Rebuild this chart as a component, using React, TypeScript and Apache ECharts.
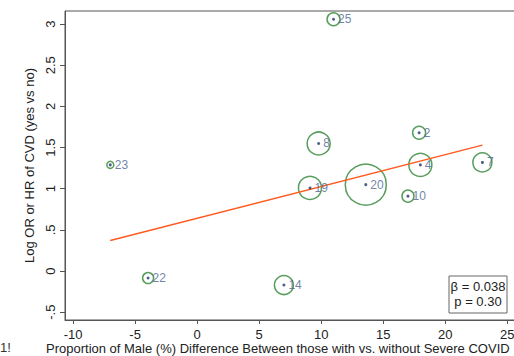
import React, { useEffect, useRef } from "react";
import * as echarts from "echarts";

const studyIds = ["23", "25", "2", "8", "4", "7", "19", "20", "10", "14", "22"];
const maleDiff = [-7.0, 11.0, 17.9, 9.8, 18.0, 23.0, 9.1, 13.6, 17.0, 7.0, -3.95];
const logOR = [1.29, 3.06, 1.68, 1.55, 1.29, 1.32, 1.01, 1.05, 0.91, -0.17, -0.085];
const weights = [7, 13, 13, 23, 23, 19, 23, 41, 12, 19, 11];

const fitX = [-7, 23];
const fitY = [0.37, 1.53];

const xTicks = [-10, -5, 0, 5, 10, 15, 20, 25];
const yTicks = [-0.5, 0, 0.5, 1, 1.5, 2, 2.5, 3];

const xTitle = "Proportion of Male (%) Difference Between those with vs. without Severe COVID";
const yTitle = "Log OR or HR of CVD (yes vs no)";
const statLines = ["β = 0.038", "p = 0.30"];

const fmtY = (v: number) => {
  if (v === 0.5) return ".5";
  if (v === -0.5) return "-.5";
  return String(v);
};

export default function App() {
  const ref = useRef<HTMLDivElement>(null);
  useEffect(() => {
    if (!ref.current) return;
    const chart = echarts.init(ref.current, null, { renderer: "svg" });
    const FONT = "Liberation Sans, Arial, sans-serif";
    const bubbles = maleDiff.map((x, i) => [x, logOR[i], weights[i], studyIds[i]]);
    chart.setOption({
      animation: false,
      textStyle: { fontFamily: FONT },
      grid: {
        left: 65,
        top: 11,
        bottom: 36,
        right: 0,
        outerBoundsMode: "none",
        containLabel: false,
        show: true,
        borderColor: "#555",
        borderWidth: 1,
        backgroundColor: "transparent",
      },
      xAxis: {
        type: "value",
        min: -10.65,
        max: 27,
        axisLine: { show: true, onZero: false, lineStyle: { color: "#555", width: 1 } },
        axisTick: { show: true, customValues: xTicks, length: 4, lineStyle: { color: "#555" } },
        axisLabel: { customValues: xTicks, fontSize: 13, color: "#222", margin: 8, fontFamily: FONT },
        splitLine: { show: false },
      },
      yAxis: {
        type: "value",
        min: -0.595,
        max: 3.16,
        name: yTitle,
        nameLocation: "middle",
        nameGap: 22,
        nameTextStyle: { fontSize: 13, color: "#222", fontFamily: FONT },
        axisLine: { show: true, onZero: false, lineStyle: { color: "#555", width: 1 } },
        axisTick: { show: true, customValues: yTicks, length: 5, lineStyle: { color: "#555" } },
        axisLabel: {
          customValues: yTicks,
          fontSize: 13,
          color: "#222",
          rotate: 90,
          margin: 8,
          formatter: fmtY,
          fontFamily: FONT,
        },
        splitLine: { show: false },
      },
      series: [
        {
          type: "scatter",
          data: bubbles,
          symbol: "circle",
          symbolSize: (d: any[]) => d[2],
          itemStyle: { color: "transparent", borderColor: "#2e8534", borderWidth: 1.5 },
          z: 2,
        },
        {
          type: "line",
          data: fitX.map((x, i) => [x, fitY[i]]),
          showSymbol: false,
          symbol: "none",
          lineStyle: { color: "#ff5a1e", width: 1.5 },
          z: 3,
        },
        {
          type: "scatter",
          data: bubbles,
          symbol: "circle",
          symbolSize: 3,
          itemStyle: { color: "#1f3a6b" },
          label: {
            show: true,
            position: "right",
            distance: 3,
            formatter: (p: any) => p.data[3],
            fontSize: 12,
            color: "#4a6490",
            fontFamily: FONT,
          },
          z: 4,
        },
      ],
      graphic: [
        {
          type: "rect",
          x: 449,
          y: 276,
          shape: { x: 0, y: 0, width: 58, height: 37 },
          style: { fill: "#fff", stroke: "#666", lineWidth: 1 },
          z: 10,
        },
        {
          type: "text",
          x: 478,
          y: 279,
          style: {
            text: statLines.join("\n"),
            fontSize: 13,
            lineHeight: 15,
            fill: "#222",
            align: "center",
            verticalAlign: "top",
            fontFamily: FONT,
          },
          z: 11,
        },
        {
          type: "text",
          x: 46,
          y: 348,
          style: {
            text: xTitle,
            fontSize: 13,
            fill: "#222",
            align: "left",
            verticalAlign: "middle",
            fontFamily: FONT,
          },
        },
        {
          type: "text",
          x: 0,
          y: 341,
          style: { text: "1!", fontSize: 13, fill: "#333", fontFamily: FONT },
        },
      ],
    });
    return () => chart.dispose();
  }, []);
  return (
    <div style={{ position: "absolute", left: 0, top: 0, width: 514, height: 356, overflow: "hidden", background: "#fff" }}>
      <div ref={ref} style={{ width: 532, height: 356 }} />
    </div>
  );
}
